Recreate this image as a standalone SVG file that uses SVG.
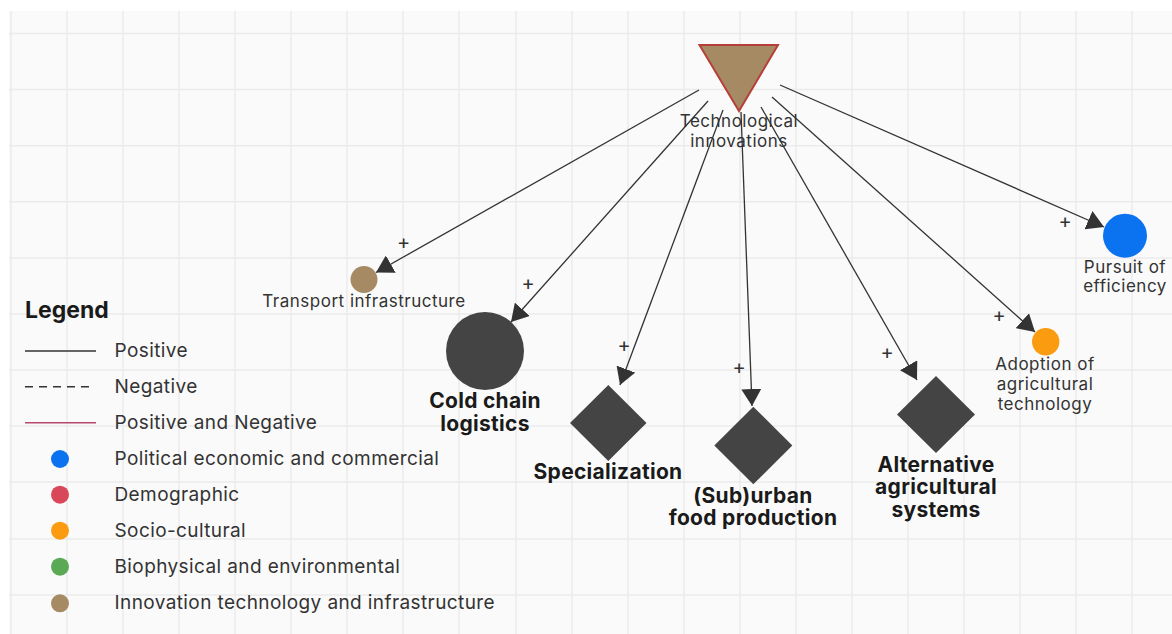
<svg xmlns="http://www.w3.org/2000/svg" width="1172" height="634" viewBox="0 0 1172 634">
  <style>
    .grid line { stroke: #ebebeb; stroke-width: 1.5; }
    .edge { stroke: #333333; stroke-width: 1.3; fill: none; marker-end: url(#arrow); }
    .sign { font-family: Inter, "Liberation Sans", sans-serif; font-size: 20px; fill: #333333; text-anchor: middle; }
    .lbl { font-family: Inter, "Liberation Sans", sans-serif; font-size: 17px; letter-spacing: 0.5px; fill: #333333; text-anchor: middle; }
    .blbl { font-family: Inter, "Liberation Sans", sans-serif; font-size: 21px; letter-spacing: 0.3px; font-weight: 700; fill: #1a1a1a; text-anchor: middle; }
    .leg { font-family: Inter, "Liberation Sans", sans-serif; font-size: 19px; letter-spacing: 0.4px; fill: #333333; }
    .legtitle { font-family: Inter, "Liberation Sans", sans-serif; font-size: 23px; font-weight: 700; fill: #1a1a1a; }
    .dark { fill: #444444; }
  </style>
  <defs>
    <marker id="arrow" markerUnits="userSpaceOnUse" markerWidth="18" markerHeight="20" refX="17" refY="10" orient="auto">
      <path d="M0,0 L17,10 L0,20 z" fill="#333333"/>
    </marker>
  </defs>

  <!-- canvas and grid -->
  <rect x="0" y="0" width="1172" height="634" fill="#ffffff"/>
  <rect x="9" y="11" width="1163" height="623" fill="#fafafa"/>
  <g class="grid">
    <line x1="11" y1="11" x2="11" y2="634"/>
    <line x1="67" y1="11" x2="67" y2="634"/>
    <line x1="123" y1="11" x2="123" y2="634"/>
    <line x1="179" y1="11" x2="179" y2="634"/>
    <line x1="235" y1="11" x2="235" y2="634"/>
    <line x1="291" y1="11" x2="291" y2="634"/>
    <line x1="347" y1="11" x2="347" y2="634"/>
    <line x1="403" y1="11" x2="403" y2="634"/>
    <line x1="459" y1="11" x2="459" y2="634"/>
    <line x1="516" y1="11" x2="516" y2="634"/>
    <line x1="572" y1="11" x2="572" y2="634"/>
    <line x1="628" y1="11" x2="628" y2="634"/>
    <line x1="684" y1="11" x2="684" y2="634"/>
    <line x1="740" y1="11" x2="740" y2="634"/>
    <line x1="796" y1="11" x2="796" y2="634"/>
    <line x1="852" y1="11" x2="852" y2="634"/>
    <line x1="908" y1="11" x2="908" y2="634"/>
    <line x1="964" y1="11" x2="964" y2="634"/>
    <line x1="1020" y1="11" x2="1020" y2="634"/>
    <line x1="1076" y1="11" x2="1076" y2="634"/>
    <line x1="1132" y1="11" x2="1132" y2="634"/>
    <line x1="9" y1="33.5" x2="1172" y2="33.5"/>
    <line x1="9" y1="89.6" x2="1172" y2="89.6"/>
    <line x1="9" y1="145.7" x2="1172" y2="145.7"/>
    <line x1="9" y1="201.8" x2="1172" y2="201.8"/>
    <line x1="9" y1="258" x2="1172" y2="258"/>
    <line x1="9" y1="314" x2="1172" y2="314"/>
    <line x1="9" y1="370" x2="1172" y2="370"/>
    <line x1="9" y1="426" x2="1172" y2="426"/>
    <line x1="9" y1="482" x2="1172" y2="482"/>
    <line x1="9" y1="539" x2="1172" y2="539"/>
    <line x1="9" y1="595" x2="1172" y2="595"/>
  </g>

  <!-- connectors -->
  <g id="connectors">
    <line class="edge" x1="699" y1="90" x2="376" y2="272.5"/>
    <line class="edge" x1="708" y1="101" x2="511" y2="322"/>
    <line class="edge" x1="723" y1="110" x2="620" y2="385"/>
    <line class="edge" x1="741" y1="112" x2="752" y2="406"/>
    <line class="edge" x1="761" y1="107" x2="917" y2="380"/>
    <line class="edge" x1="772" y1="97" x2="1035" y2="332"/>
    <line class="edge" x1="780" y1="85" x2="1104" y2="227"/>
    <text class="sign" x="403.5" y="248.5">+</text>
    <text class="sign" x="528" y="290">+</text>
    <text class="sign" x="624" y="352">+</text>
    <text class="sign" x="739" y="373.5">+</text>
    <text class="sign" x="887" y="358.5">+</text>
    <text class="sign" x="999" y="322">+</text>
    <text class="sign" x="1065" y="228">+</text>
  </g>

  <!-- nodes -->
  <g id="technological-innovations">
    <polygon points="699.5,45 778,45 739,111" fill="#a68a64" stroke="#b5403a" stroke-width="2"/>
    <text class="lbl" x="739" y="127">Technological</text>
    <text class="lbl" x="739" y="147">innovations</text>
  </g>
  <g id="transport-infrastructure">
    <circle cx="364" cy="279.5" r="13.5" fill="#a68a64"/>
    <text class="lbl" x="364" y="307">Transport infrastructure</text>
  </g>
  <g id="cold-chain-logistics">
    <circle cx="485" cy="351" r="39" class="dark"/>
    <text class="blbl" x="485" y="408">Cold chain</text>
    <text class="blbl" x="485" y="431">logistics</text>
  </g>
  <g id="specialization">
    <polygon points="608.3,385 646.5,423 608.3,461 570,423" class="dark"/>
    <text class="blbl" x="608" y="479">Specialization</text>
  </g>
  <g id="suburban-food-production">
    <polygon points="753.3,406.7 792.3,445.5 753.3,484.3 714.3,445.5" class="dark"/>
    <text class="blbl" x="753" y="503">(Sub)urban</text>
    <text class="blbl" x="753" y="525">food production</text>
  </g>
  <g id="alternative-agricultural-systems">
    <polygon points="936,376 975,414.5 936,453 897,414.5" class="dark"/>
    <text class="blbl" x="936" y="471.5">Alternative</text>
    <text class="blbl" x="936" y="494">agricultural</text>
    <text class="blbl" x="936" y="516.5">systems</text>
  </g>
  <g id="adoption-of-agricultural-technology">
    <circle cx="1045.7" cy="341.7" r="13.7" fill="#fb9b0f"/>
    <text class="lbl" x="1045" y="370">Adoption of</text>
    <text class="lbl" x="1045" y="390">agricultural</text>
    <text class="lbl" x="1045" y="410">technology</text>
  </g>
  <g id="pursuit-of-efficiency">
    <circle cx="1125" cy="235.7" r="22" fill="#0b72f0"/>
    <text class="lbl" x="1125" y="273">Pursuit of</text>
    <text class="lbl" x="1125" y="292">efficiency</text>
  </g>

  <!-- legend -->
  <g id="legend">
    <text class="legtitle" x="25" y="318">Legend</text>
    <line x1="25" y1="351" x2="96" y2="351" stroke="#333333" stroke-width="1.6"/>
    <text class="leg" x="114.5" y="357">Positive</text>
    <line x1="25" y1="386.7" x2="90" y2="386.7" stroke="#333333" stroke-width="1.6" stroke-dasharray="8,6"/>
    <text class="leg" x="114.5" y="393">Negative</text>
    <line x1="25" y1="422.7" x2="96" y2="422.7" stroke="#b5476e" stroke-width="1.6"/>
    <text class="leg" x="114.5" y="428.5">Positive and Negative</text>
    <circle cx="60" cy="459" r="9" fill="#0b72f0"/>
    <text class="leg" x="114.5" y="465">Political economic and commercial</text>
    <circle cx="60" cy="494.7" r="9" fill="#d9475a"/>
    <text class="leg" x="114.5" y="500.5">Demographic</text>
    <circle cx="60" cy="530.7" r="9" fill="#fb9b0f"/>
    <text class="leg" x="114.5" y="536.5">Socio-cultural</text>
    <circle cx="60" cy="566.7" r="9" fill="#5aaa55"/>
    <text class="leg" x="114.5" y="572.5">Biophysical and environmental</text>
    <circle cx="60" cy="603.3" r="9" fill="#a68a64"/>
    <text class="leg" x="114.5" y="609">Innovation technology and infrastructure</text>
  </g>
</svg>
